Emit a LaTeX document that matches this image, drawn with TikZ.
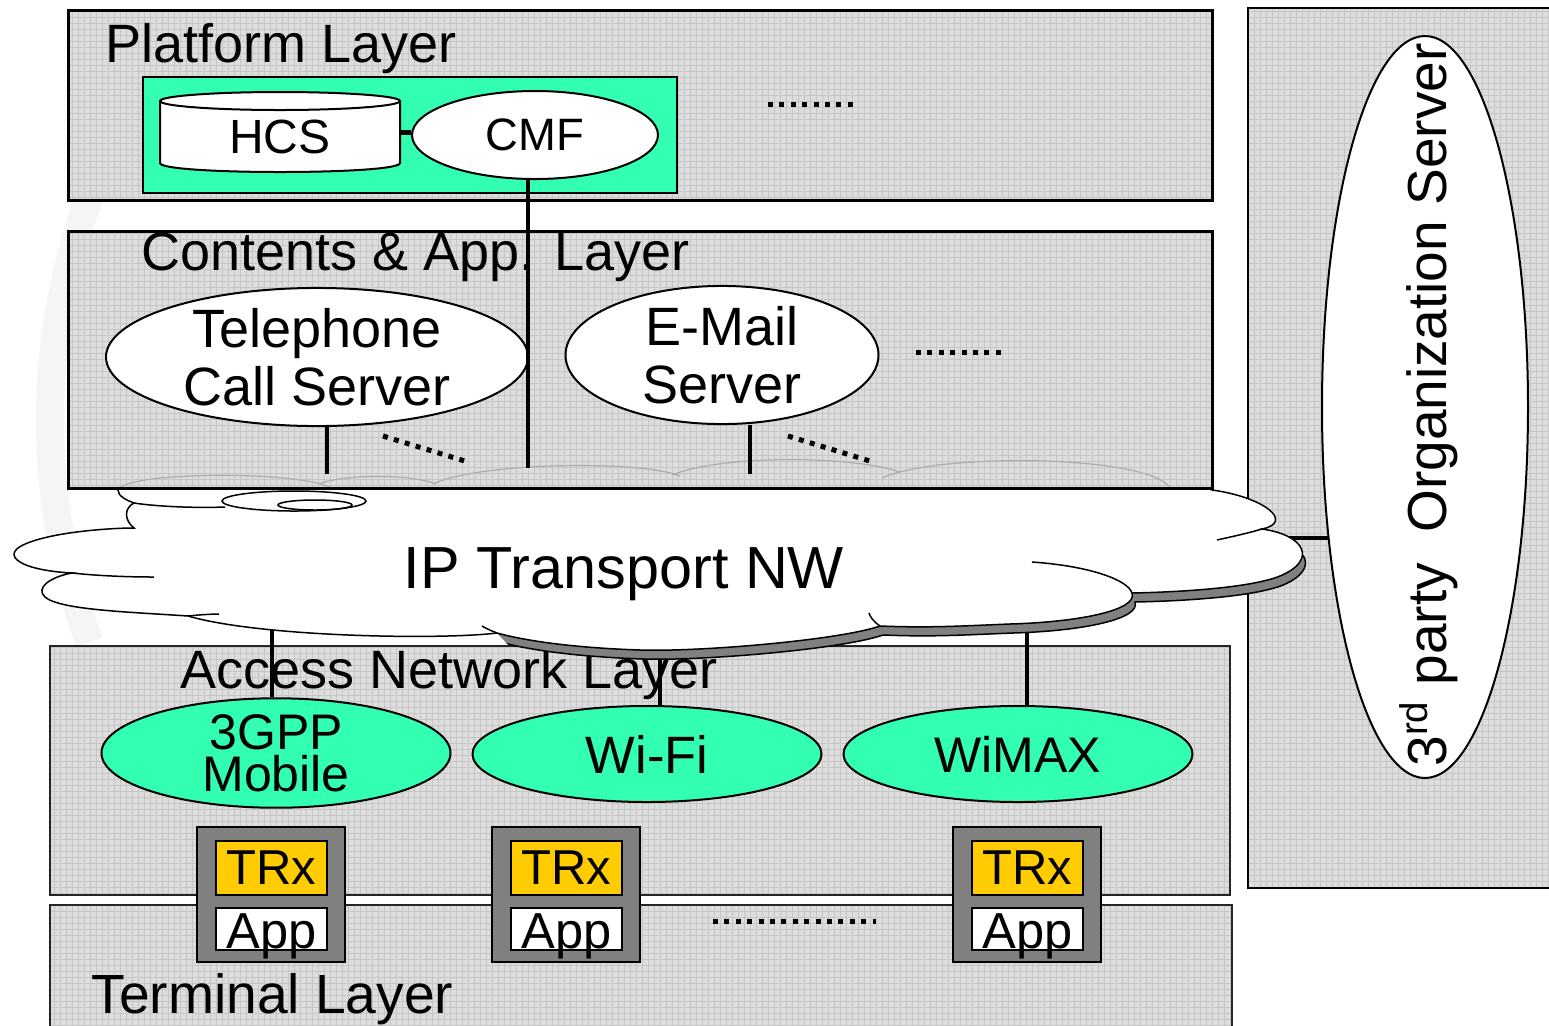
\documentclass[tikz,border=0pt]{standalone}
\usepackage{fontspec}
\setmainfont{Liberation Sans}
\usetikzlibrary{shapes.geometric,patterns}
\definecolor{mint}{RGB}{51,255,179}
\definecolor{amber}{RGB}{255,204,0}
\definecolor{layerbase}{RGB}{221,221,221}
\definecolor{layergrid}{RGB}{198,198,198}
\definecolor{devgrey}{RGB}{128,128,128}
\definecolor{wmgrey}{RGB}{245,245,245}

% outline of the IP transport cloud (pixel-like units, y downwards)
\def\cloudoutline{(118,490) .. controls (125,472) and (290,470) .. (325,484)
  .. controls (350,474) and (410,474) .. (436,484)
  .. controls (480,462) and (640,460) .. (676,474)
  .. controls (720,455) and (850,455) .. (884,472)
  .. controls (940,452) and (1150,455) .. (1212,490)
  .. controls (1264,497) and (1295,522) .. (1262,529)
  .. controls (1305,535) and (1318,560) .. (1280,576)
  .. controls (1250,588) and (1180,592) .. (1132,593)
  .. controls (1138,610) and (1080,622) .. (1010,624)
  .. controls (960,626) and (930,628) .. (880,626)
  .. controls (840,640) and (700,652) .. (640,650)
  .. controls (580,648) and (530,642) .. (497,633)
  .. controls (440,640) and (260,637) .. (188,616)
  .. controls (130,612) and (60,610) .. (45,597)
  .. controls (35,588) and (50,577) .. (72,573)
  .. controls (18,570) and (2,555) .. (23,545)
  .. controls (50,532) and (110,528) .. (134,528)
  .. controls (124,520) and (124,508) .. (134,503)
  .. controls (126,500) and (118,496) .. (118,490) -- cycle}
\def\cloudtop{(118,490) .. controls (125,472) and (290,470) .. (330,487)
  (321,483) .. controls (350,474) and (410,474) .. (436,484)
  (433,484) .. controls (480,462) and (640,460) .. (680,476)
  (672,475) .. controls (720,455) and (850,455) .. (900,472)
  (882,478) .. controls (940,452) and (1150,455) .. (1170,488)}

\begin{document}
\begin{tikzpicture}[x=0.5pt,y=-0.5pt,
  layerfill/.style={preaction={fill=layerbase}, pattern=grid, pattern color=layergrid},
  heavybox/.style={layerfill, draw=black, line width=1.5pt, inner sep=0},
  lightbox/.style={layerfill, draw=black!85, line width=0.8pt, inner sep=0},
  title/.style={font=\fontsize{27}{30}\selectfont, anchor=base west, inner sep=0},
  server/.style={ellipse, draw, fill=white, line width=1pt, inner sep=0, align=center,
    font=\fontsize{27}{29}\selectfont},
  accessnet/.style={ellipse, draw, fill=mint, line width=1pt, inner sep=0, align=center},
  link/.style={line width=2.2pt},
  dotrow/.style={line width=2.5pt, dash pattern=on 2.5pt off 3.2pt},
  cloudline/.style={line width=0.75pt},
  devbox/.style={draw, fill=devgrey, line width=0.6pt, minimum width=74pt,
    minimum height=67.5pt, inner sep=0},
  trxbox/.style={draw, fill=amber, line width=0.6pt, minimum width=55.5pt,
    minimum height=27pt, inner sep=0, font=\fontsize{24.5}{26}\selectfont},
  appbox/.style={draw, fill=white, line width=0.6pt, minimum width=55.5pt,
    minimum height=21pt, inner sep=0, text height=19.5pt, text depth=0pt,
    font=\fontsize{25.3}{26}\selectfont}]
\useasboundingbox (0,0) rectangle (1549,1025);
\clip (0,0) rectangle (1549,1025);

% faint background swoosh at the left margin
\draw[wmgrey, line width=14pt] (89.2,197.7) arc [start angle=200, end angle=160, radius=650];

% lower layers and the third-party column
\node[lightbox, minimum width=591pt, minimum height=65pt] (terminal) at (641,970) {};
\node[lightbox, minimum width=590pt, minimum height=124.5pt] (accesslayer) at (640,770.5) {};
\node[heavybox, line width=1.2pt, minimum width=156pt, minimum height=440pt] (thirdcol) at (1404,448) {};
\node[title] (accesstitle) at (180,688) {Access Network Layer};
\node[title, font=\fontsize{27.6}{30}\selectfont] (terminaltitle) at (91,1013) {Terminal Layer};

% access networks
\node[accessnet, minimum width=174.5pt, minimum height=48pt,
  font=\fontsize{25}{21}\selectfont] (g3) at (276,753) {3GPP\\Mobile};
\node[accessnet, minimum width=174.5pt, minimum height=48pt,
  font=\fontsize{26.3}{28}\selectfont] (wifi) at (647,754) {Wi-Fi};
\node[accessnet, minimum width=174.5pt, minimum height=48pt,
  font=\fontsize{25}{28}\selectfont] (wimax) at (1018,754) {WiMAX};

% links from the cloud down to the access networks
\coordinate (cl3gpp) at (272,625);
\coordinate (clwifi) at (660,640);
\coordinate (clwimax) at (1027,615);
\coordinate (clorg) at (1285,538);
\draw[link] (cl3gpp) -- (cl3gpp |- g3.north);
\draw[link] (clwifi) -- (clwifi |- wifi.north);
\draw[link] (clwimax) -- (clwimax |- wimax.north);

% third-party organization server
\node[ellipse, draw, fill=white, line width=1pt, inner sep=0,
  minimum width=103pt, minimum height=371pt] (org) at (1425,407) {};
\draw[link, shorten >=-3.3pt] (clorg) -- (clorg -| org.west);
\node[rotate=90, anchor=base, inner sep=0, font=\fontsize{27.5}{30}\selectfont]
  (orgtext) at (1446,405) {3\textsuperscript{rd} party\ \ Organization Server};

% terminals
\foreach \x/\n in {271/1, 566/2, 1027/3} {
  \node[devbox] (dev\n) at (\x,894.5) {};
  \node[trxbox] (trx\n) at (\x+0.5,868) {TRx};
  \node[appbox] (app\n) at (\x+0.5,929) {App};
}
\draw[dotrow] (713,921) -- (876,921);

% IP transport cloud with its shadow
\begin{scope}
  \clip (497,633) -- (560,700) -- (1400,700) -- (1400,555) -- (497,555) -- cycle;
  \draw[fill=devgrey, cloudline, shift={(3,9)}] \cloudoutline;
\end{scope}
\draw[fill=white, cloudline] \cloudoutline;
\draw[cloudline] (134,503) .. controls (160,507) and (200,508) .. (225,507);
\draw[cloudline] (72,573) .. controls (100,576) and (130,577) .. (154,577);
\draw[cloudline] (188,616) .. controls (198,615) and (210,614) .. (219,614);
\draw[cloudline] (482,626) .. controls (487,629) and (492,631) .. (497,633);
\draw[cloudline] (880,626) .. controls (874,622) and (870,617) .. (869,613);
\draw[cloudline] (1132,593) .. controls (1128,580) and (1090,566) .. (1032,562);
\draw[cloudline] (1262,529) .. controls (1245,534) and (1230,537) .. (1217,540);
\draw[cloudline, fill=white] (294,501) ellipse [x radius=72, y radius=10];
\draw[cloudline] (315,505) ellipse [x radius=37, y radius=5];
\node[anchor=base, inner sep=0, font=\fontsize{29.7}{32}\selectfont] (ipnw) at (624,588) {IP Transport NW};

% contents & application layer
\node[heavybox, minimum width=572pt, minimum height=128.5pt] (contents) at (640,359.5) {};
\begin{scope}
  \clip (70,233) rectangle (1210,486);
  \draw[gray!65, line width=0.6pt] \cloudtop;
\end{scope}
\node[title] (contentstitle) at (141,270) {Contents \& App. Layer};
\node[server, minimum width=211pt, minimum height=68pt] (tel) at (317,357) {Telephone\\Call Server};
\node[server, minimum width=156.5pt, minimum height=67.5pt] (mail) at (722,355) {E-Mail\\Server};
\draw[dotrow] (916,352) -- (1006,352);
\coordinate (cltel) at (327,474);
\coordinate (clmail) at (750,474);
\draw[link] (tel.south -| cltel) -- (cltel);
\draw[link] (mail.south -| clmail) -- (clmail);
\draw[dotrow] (383,436) -- (468,462);
\draw[dotrow] (788,436) -- (873,462);

% platform layer
\node[heavybox, minimum width=572pt, minimum height=95pt] (platform) at (640,105) {};
\node[title] (platformtitle) at (105,62) {Platform Layer};
\node[draw, fill=mint, line width=0.8pt, minimum width=267pt, minimum height=58pt, inner sep=0]
  (core) at (410,135) {};
\draw[fill=white, line width=1pt] (160,101) -- (160,163)
  .. controls (160,175) and (400,175) .. (400,163) -- (400,101);
\draw[fill=white, line width=1pt] (280,101) ellipse [x radius=120, y radius=9];
\node[inner sep=0, minimum width=120pt, minimum height=31pt,
  font=\fontsize{24}{26}\selectfont] (hcs) at (280,137) {HCS};
\node[server, minimum width=123pt, minimum height=44pt,
  font=\fontsize{22.7}{26}\selectfont] (cmf) at (535,135) {CMF};
\draw[line width=2.5pt] (hcs.east) ++(0,-5) coordinate (hcsport) -- (hcsport -| cmf.west);
\draw[dotrow] (768,104) -- (858,104);
\coordinate (clcmf) at (528,468);
\draw[link] (cmf.south -| clcmf) -- (clcmf);
\end{tikzpicture}
\end{document}
